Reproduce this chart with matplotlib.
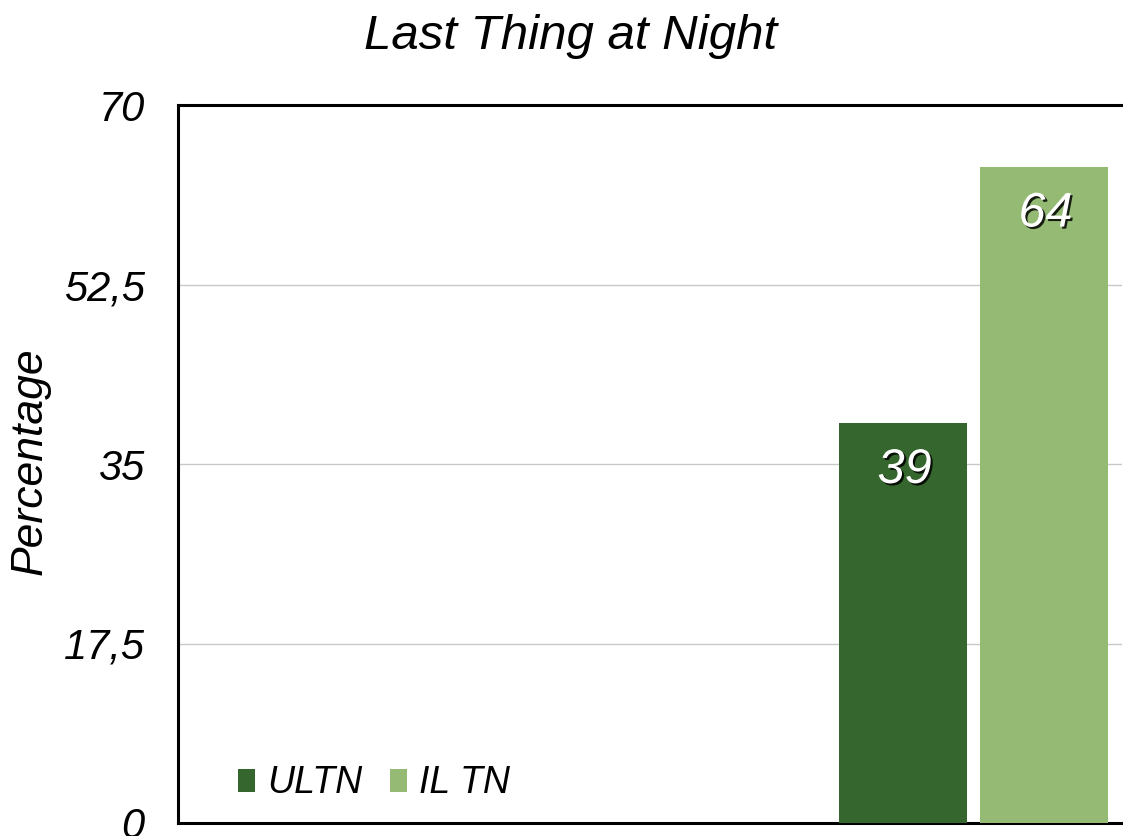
import matplotlib
matplotlib.use("Agg")
import matplotlib.pyplot as plt
import matplotlib.patheffects as pe
import numpy as np

# Data
series_names = ["ULTN", "IL TN"]
series_values = [39, 64]
series_colors = ["#35662D", "#94BA74"]
y_ticks = [0, 17.5, 35, 52.5, 70]
y_tick_labels = ["0", "17,5", "35", "52,5", "70"]

plt.rcParams["font.family"] = ["Liberation Sans", "DejaVu Sans"]

W, H = 1123, 836
fig = plt.figure(figsize=(W / 100, H / 100), dpi=100)
ax = fig.add_axes([178 / W, 1 - 823 / H, (1122 - 178) / W, (823 - 105) / H])

offsets = np.array([-0.5, 0.5])
bar_w = 0.91
bars = ax.bar(offsets, series_values, width=bar_w, color=series_colors,
              label=series_names, zorder=3)

# value labels inside the top of each bar
for b, v in zip(bars, series_values):
    ax.text(b.get_x() + b.get_width() / 2 + 0.01, v - 5.85, f"{v}",
            ha="center", va="baseline", fontsize=35, style="italic",
            color="white", zorder=4,
            path_effects=[pe.withSimplePatchShadow(offset=(1.5, -1.5),
                                                   shadow_rgbFace="black",
                                                   alpha=0.85)])

ax.set_ylim(0, 70)
ax.set_xlim(-5.647, 1.053)
ax.set_yticks(y_ticks)
ax.set_yticklabels(y_tick_labels, fontsize=30, style="italic")
ax.tick_params(axis="y", length=0, pad=24)
ax.set_xticks([])
ax.grid(axis="y", color="#c8c8c8", linewidth=1, zorder=0)

for side in ["left", "top", "bottom"]:
    ax.spines[side].set_linewidth(2.2)
    ax.spines[side].set_color("black")
ax.spines["right"].set_visible(False)

fig.text(30 / W, 1 - 461 / H, "Percentage", rotation=90, ha="center",
         va="center", fontsize=32, style="italic")

fig.text(571 / W, 1 - 49 / H, "Last Thing at Night", ha="center",
         va="baseline", fontsize=35.5, style="italic")

ax.legend(loc="lower left", bbox_to_anchor=(0.0636, 0.03), ncol=2,
          frameon=False, prop={"style": "italic", "size": 27},
          borderpad=0, borderaxespad=0,
          handlelength=0.45, handleheight=0.56, handletextpad=0.32,
          columnspacing=0.75)

fig.savefig("out.png", dpi=100)
